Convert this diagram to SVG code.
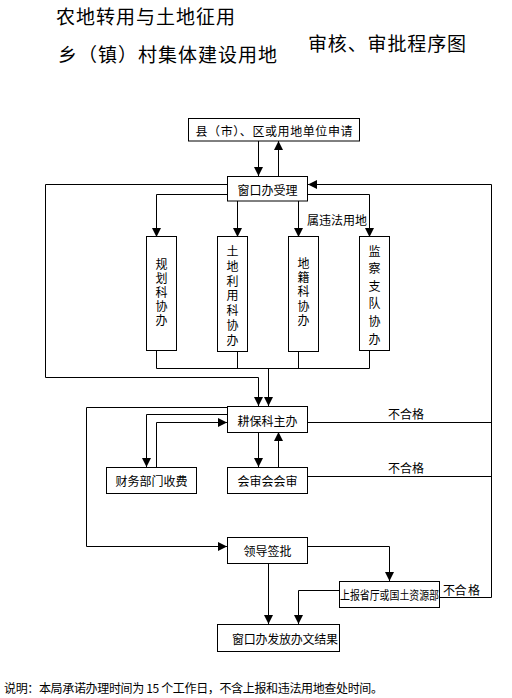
<svg xmlns="http://www.w3.org/2000/svg" width="512" height="698" viewBox="0 0 512 698">
<style>
text{font-family:"Noto Sans CJK SC","Noto Sans CJK JP",sans-serif;fill:#000;dominant-baseline:central}
.t{font-size:19px}
.b{font-size:12px;text-anchor:middle}
.l{font-size:12px}
rect{fill:#fff;stroke:#000;stroke-width:1}
.c path,.c polyline,.c line{fill:none;stroke:#000;stroke-width:1}
</style>
<defs>
<marker id="a" markerUnits="userSpaceOnUse" markerWidth="9" markerHeight="9" refX="9" refY="4.5" orient="auto">
<path d="M0,0 L9,4.5 L0,9 z" fill="#000"/>
</marker>
</defs>
<rect x="0" y="0" width="512" height="698" style="stroke:none"/>
<g id="title">
<text class="t" x="56" y="15" textLength="179">农地转用与土地征用</text>
<text class="t" x="58" y="53" textLength="219">乡（镇）村集体建设用地</text>
<text class="t" x="308" y="42" textLength="158">审核、审批程序图</text>
</g>
<g class="c" id="connectors">
<line x1="258.5" y1="141" x2="258.5" y2="176" marker-end="url(#a)"/>
<line x1="278.5" y1="176" x2="278.5" y2="141" marker-end="url(#a)"/>
<polyline points="227,184.5 45.5,184.5 45.5,377.5 258.5,377.5 258.5,406" marker-end="url(#a)"/>
<polyline points="491.5,597.5 491.5,184.5 308,184.5" marker-end="url(#a)"/>
<line x1="439" y1="597.5" x2="491.5" y2="597.5"/>
<polyline points="227,194.5 156.5,194.5 156.5,237" marker-end="url(#a)"/>
<polyline points="307,194.5 369.5,194.5 369.5,237" marker-end="url(#a)"/>
<line x1="237.5" y1="201" x2="237.5" y2="237" marker-end="url(#a)"/>
<line x1="298.5" y1="201" x2="298.5" y2="237" marker-end="url(#a)"/>
<polyline points="156.5,351 156.5,368.5 369.5,368.5 369.5,351"/>
<line x1="237.5" y1="352" x2="237.5" y2="368.5"/>
<line x1="298.5" y1="352" x2="298.5" y2="368.5"/>
<line x1="268.5" y1="368.5" x2="268.5" y2="406" marker-end="url(#a)"/>
<polyline points="227,407.5 86.5,407.5 86.5,546.5 227,546.5" marker-end="url(#a)"/>
<polyline points="227,414.5 146.5,414.5 146.5,467" marker-end="url(#a)"/>
<polyline points="156.5,467 156.5,422.5 227,422.5" marker-end="url(#a)"/>
<line x1="258.5" y1="432" x2="258.5" y2="467" marker-end="url(#a)"/>
<line x1="278.5" y1="467" x2="278.5" y2="432" marker-end="url(#a)"/>
<line x1="307" y1="422.5" x2="491.5" y2="422.5"/>
<line x1="307" y1="476.5" x2="491.5" y2="476.5"/>
<polyline points="307,546.5 389.5,546.5 389.5,581" marker-end="url(#a)"/>
<line x1="268.5" y1="563" x2="268.5" y2="624" marker-end="url(#a)"/>
<polyline points="339,590.5 298.5,590.5 298.5,624" marker-end="url(#a)"/>
</g>
<g id="labels">
<text class="l" x="307" y="219" textLength="60">属违法用地</text>
<text class="l" x="388" y="413" textLength="36">不合格</text>
<text class="l" x="388" y="467" textLength="36">不合格</text>
<text class="l" x="443" y="589" textLength="37">不合 格</text>
</g>
<g id="n1"><rect x="188.5" y="118.5" width="171" height="22.5"/><text class="b" x="274" y="130" textLength="157">县（市）、区或用地单位申请</text></g>
<g id="n2"><rect x="227.5" y="176.5" width="80" height="24.5"/><text class="b" x="267.5" y="189">窗口办受理</text></g>
<g id="n3"><rect x="146.5" y="236.5" width="30" height="114"/><text class="b"><tspan x="161.5" y="263">规</tspan><tspan x="161.5" y="277">划</tspan><tspan x="161.5" y="291">科</tspan><tspan x="161.5" y="305">协</tspan><tspan x="161.5" y="319">办</tspan></text></g>
<g id="n4"><rect x="217.5" y="236.5" width="30" height="115"/><text class="b"><tspan x="232.5" y="250">土</tspan><tspan x="232.5" y="265">地</tspan><tspan x="232.5" y="280">利</tspan><tspan x="232.5" y="294">用</tspan><tspan x="232.5" y="309">科</tspan><tspan x="232.5" y="324">协</tspan><tspan x="232.5" y="339">办</tspan></text></g>
<g id="n5"><rect x="288.5" y="236.5" width="30" height="115"/><text class="b"><tspan x="303.5" y="262">地</tspan><tspan x="303.5" y="276">籍</tspan><tspan x="303.5" y="290">科</tspan><tspan x="303.5" y="305">协</tspan><tspan x="303.5" y="319">办</tspan></text></g>
<g id="n6"><rect x="359.5" y="236.5" width="30" height="114"/><text class="b"><tspan x="374.5" y="250">监</tspan><tspan x="374.5" y="267">察</tspan><tspan x="374.5" y="285">支</tspan><tspan x="374.5" y="302">队</tspan><tspan x="374.5" y="320">协</tspan><tspan x="374.5" y="338">办</tspan></text></g>
<g id="n7"><rect x="227.5" y="406.5" width="80" height="26"/><text class="b" x="267.5" y="420">耕保科主办</text></g>
<g id="n8"><rect x="106.5" y="467.5" width="90" height="26"/><text class="b" x="151.5" y="480">财务部门收费</text></g>
<g id="n9"><rect x="227.5" y="467.5" width="80" height="26"/><text class="b" x="267.5" y="480">会审会会审</text></g>
<g id="n10"><rect x="227.5" y="537.5" width="80" height="26"/><text class="b" x="267.5" y="550">领导签批</text></g>
<g id="n11"><rect x="339.5" y="581.5" width="100" height="26"/><text class="l" x="340" y="594" textLength="99" lengthAdjust="spacingAndGlyphs">上报省厅或国土资源部</text></g>
<g id="n12"><rect x="217.5" y="624.5" width="122" height="27"/><text class="l" x="232" y="638" textLength="106">窗口办发放办文结果</text></g>
<g id="note"><text class="l" x="4" y="687" textLength="379">说明：本局承诺办理时间为 15 个工作日，不含上报和违法用地查处时间。</text></g>
</svg>
